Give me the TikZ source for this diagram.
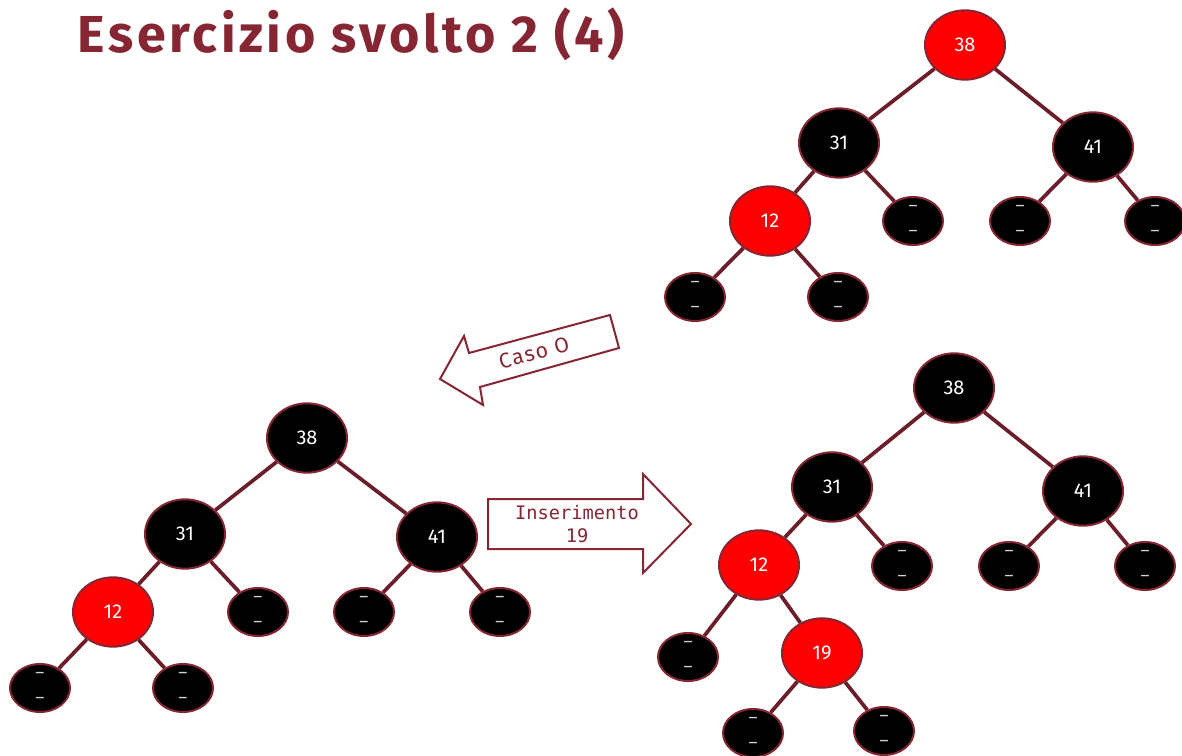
\documentclass[tikz,border=0pt]{standalone}
\usepackage{fontspec}
\setmainfont{Fira Sans}
\newfontfamily\monofont{DejaVu Sans Mono}
\newfontfamily\spacedfont{Fira Sans}[LetterSpace=7]
\usetikzlibrary{shapes.geometric}
\definecolor{bordeaux}{HTML}{862633}
\definecolor{edgecol}{HTML}{6B1E2A}
\definecolor{dashgray}{HTML}{D0D0D0}
\definecolor{rbred}{HTML}{FF0000}

\begin{document}
\begin{tikzpicture}[x=0.75pt, y=-0.75pt,
  inner/.style={ellipse, draw=bordeaux, line width=1.5pt, minimum width=60pt, minimum height=52pt, inner sep=0pt, text=white, font=\fontsize{15}{15}\selectfont},
  blacknode/.style={inner, fill=black},
  rednode/.style={inner, fill=rbred},
  leaf/.style={ellipse, draw=bordeaux, line width=1.5pt, fill=black, minimum width=45pt, minimum height=36pt, inner sep=0pt, text=dashgray, align=center, font=\fontsize{13}{19}\selectfont},
  link/.style={draw=edgecol, line width=2.8pt},
  blockarrow/.style={draw=bordeaux, line width=1.5pt, fill=white, line join=miter}]
\useasboundingbox (0,0) rectangle (1182,756);

\node[anchor=base west, text=bordeaux, font=\spacedfont\fontsize{39}{39}\selectfont\bfseries] (title) at (73,53) {Esercizio svolto 2 (4)};

% albero in alto a destra
\node[rednode] (a38) at (965,45) {38};
\node[blacknode] (a31) at (839,143) {31};
\node[blacknode] (a41) at (1093,147) {41};
\node[rednode] (a12) at (770,221) {12};
\node[leaf] (a31r) at (913,221) {\textendash\\\textendash};
\node[leaf] (a41l) at (1020,221) {\textendash\\\textendash};
\node[leaf] (a41r) at (1155,221) {\textendash\\\textendash};
\node[leaf] (a12l) at (695,297) {\textendash\\\textendash};
\node[leaf] (a12r) at (838,297) {\textendash\\\textendash};

\draw[link] (a38) -- (a31);
\draw[link] (a38) -- (a41);
\draw[link] (a31) -- (a12);
\draw[link] (a31) -- (a31r);
\draw[link] (a41) -- (a41l);
\draw[link] (a41) -- (a41r);
\draw[link] (a12) -- (a12l);
\draw[link] (a12) -- (a12r);

% freccia caso 0
\draw[blockarrow] (610,315) -- (619,348) -- (480,387) -- (483,405) -- (440,379) -- (464,336) -- (469,353) -- cycle;
\node[rotate=15, text=bordeaux, inner sep=0pt, font=\spacedfont\fontsize{16}{16}\selectfont] (caso) at (534,353) {Caso O};

% albero in basso a sinistra
\node[blacknode] (b38) at (307,438) {38};
\node[blacknode] (b31) at (185,534) {31};
\node[blacknode] (b41) at (437,537) {41};
\node[rednode] (b12) at (113,612) {12};
\node[leaf] (b31r) at (258,612) {\textendash\\\textendash};
\node[leaf] (b41l) at (364,612) {\textendash\\\textendash};
\node[leaf] (b41r) at (500,612) {\textendash\\\textendash};
\node[leaf] (b12l) at (40,688) {\textendash\\\textendash};
\node[leaf] (b12r) at (183,688) {\textendash\\\textendash};

\draw[link] (b38) -- (b31);
\draw[link] (b38) -- (b41);
\draw[link] (b31) -- (b12);
\draw[link] (b31) -- (b31r);
\draw[link] (b41) -- (b41l);
\draw[link] (b41) -- (b41r);
\draw[link] (b12) -- (b12l);
\draw[link] (b12) -- (b12r);

% freccia inserimento
\draw[blockarrow] (488,499) -- (643,499) -- (643,474) -- (691,524) -- (643,573) -- (643,549) -- (488,549) -- cycle;
\node[text=bordeaux, align=center, font=\monofont\fontsize{14}{17}\selectfont] (ins) at (577,524) {Inserimento\\19};

% albero in basso a destra
\node[blacknode] (c38) at (954,388) {38};
\node[blacknode] (c31) at (832,487) {31};
\node[blacknode] (c41) at (1083,491) {41};
\node[rednode] (c12) at (759,565) {12};
\node[leaf] (c31r) at (902,566) {\textendash\\\textendash};
\node[leaf] (c41l) at (1009,566) {\textendash\\\textendash};
\node[leaf] (c41r) at (1145,566) {\textendash\\\textendash};
\node[leaf] (c12l) at (688,657) {\textendash\\\textendash};
\node[rednode] (c19) at (822,653) {19};
\node[leaf] (c19l) at (753,733) {\textendash\\\textendash};
\node[leaf] (c19r) at (884,731) {\textendash\\\textendash};

\draw[link] (c38) -- (c31);
\draw[link] (c38) -- (c41);
\draw[link] (c31) -- (c12);
\draw[link] (c31) -- (c31r);
\draw[link] (c41) -- (c41l);
\draw[link] (c41) -- (c41r);
\draw[link] (c12) -- (c12l);
\draw[link] (c12) -- (c19);
\draw[link] (c19) -- (c19l);
\draw[link] (c19) -- (c19r);

\end{tikzpicture}
\end{document}
